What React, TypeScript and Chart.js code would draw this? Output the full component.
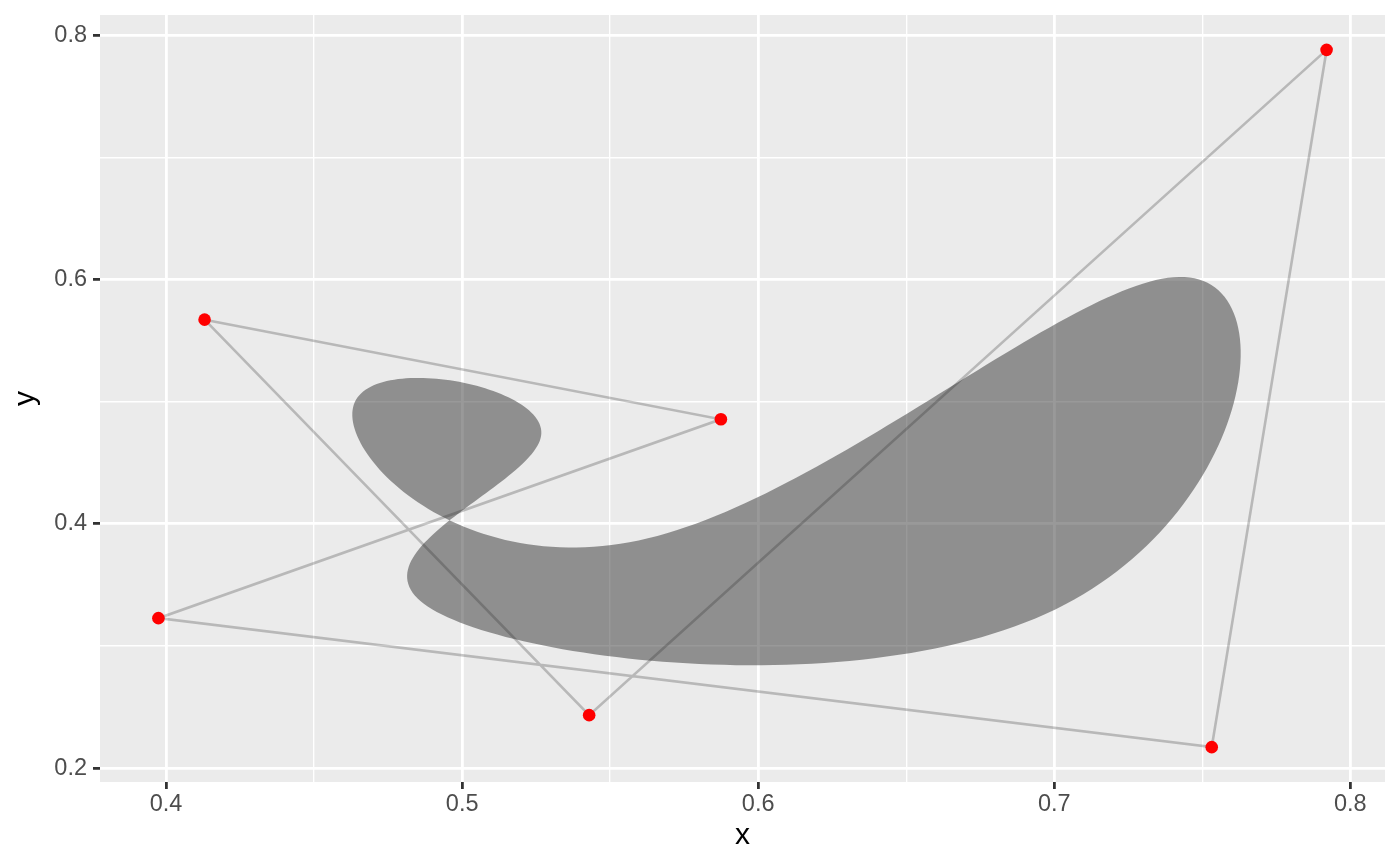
import React, { useEffect, useRef } from 'react';
import { Chart, registerables } from 'chart.js';

Chart.register(...registerables);

// Control points (in path order)
const pointX = [0.413, 0.5874, 0.3974, 0.7532, 0.792, 0.5429];
const pointY = [0.5671, 0.4855, 0.3227, 0.2171, 0.788, 0.2433];

const xMajor = [0.4, 0.5, 0.6, 0.7, 0.8];
const xMinor = [0.45, 0.55, 0.65, 0.75];
const yMajor = [0.2, 0.4, 0.6, 0.8];
const yMinor = [0.3, 0.5, 0.7];

const xTitle = 'x';
const yTitle = 'y';

const FONT = '"Liberation Sans", Arial, Helvetica, sans-serif';
const DPI_SCALE = 2.6;

// Closed uniform cubic B-spline through the control points (what geom_bspline_closed computes)
function closedBSpline(xs: number[], ys: number[], perSeg: number) {
  const n = xs.length;
  const out: { x: number; y: number }[] = [];
  for (let i = 0; i < n; i++) {
    const i0 = (i - 1 + n) % n, i1 = i, i2 = (i + 1) % n, i3 = (i + 2) % n;
    for (let k = 0; k < perSeg; k++) {
      const t = k / perSeg;
      const b0 = (1 - t) ** 3 / 6;
      const b1 = (3 * t ** 3 - 6 * t ** 2 + 4) / 6;
      const b2 = (-3 * t ** 3 + 3 * t ** 2 + 3 * t + 1) / 6;
      const b3 = t ** 3 / 6;
      out.push({
        x: b0 * xs[i0] + b1 * xs[i1] + b2 * xs[i2] + b3 * xs[i3],
        y: b0 * ys[i0] + b1 * ys[i1] + b2 * ys[i2] + b3 * ys[i3],
      });
    }
  }
  out.push(out[0]);
  return out;
}

function expandRange(vals: number[]) {
  const mn = Math.min(...vals), mx = Math.max(...vals);
  const pad = (mx - mn) * 0.05;
  return [mn - pad, mx + pad];
}

const isMajor = (v: number, majors: number[]) => majors.some((m) => Math.abs(m - v) < 1e-9);

export default function App() {
  const ref = useRef<HTMLCanvasElement | null>(null);

  useEffect(() => {
    document.body.style.margin = '0';
    const canvas = ref.current;
    if (!canvas) return;

    const pts = pointX.map((x, i) => ({ x, y: pointY[i] }));
    const pathPts = [...pts, pts[0]];
    const blobPts = closedBSpline(pointX, pointY, 60);
    const [xMin, xMax] = expandRange(pointX);
    const [yMin, yMax] = expandRange(pointY);

    const bgPlugin = {
      id: 'panelBg',
      beforeDraw(chart: any) {
        const { ctx, chartArea } = chart;
        ctx.save();
        ctx.fillStyle = '#EBEBEB';
        ctx.fillRect(chartArea.left, chartArea.top, chartArea.right - chartArea.left, chartArea.bottom - chartArea.top);
        ctx.restore();
      },
    };

    const blobPlugin = {
      id: 'blobFill',
      afterDatasetDraw(chart: any, args: any) {
        if (args.index !== 2) return;
        const meta = chart.getDatasetMeta(2);
        const { ctx } = chart;
        ctx.save();
        ctx.beginPath();
        meta.data.forEach((el: any, i: number) => {
          if (i === 0) ctx.moveTo(el.x, el.y);
          else ctx.lineTo(el.x, el.y);
        });
        ctx.closePath();
        ctx.fillStyle = 'rgba(51,51,51,0.5)';
        ctx.fill('nonzero');
        ctx.restore();
      },
    };

    const gridOpts = (majors: number[]) => ({
      color: '#FFFFFF',
      lineWidth: (c: any) => (isMajor(c.tick?.value, majors) ? 1.07 * DPI_SCALE : 0.53 * DPI_SCALE),
      drawTicks: true,
      tickLength: 7,
      tickColor: (c: any) => (isMajor(c.tick?.value, majors) ? '#333333' : 'rgba(0,0,0,0)'),
      tickWidth: (c: any) => (isMajor(c.tick?.value, majors) ? 1.07 * DPI_SCALE : 0),
    });

    const chart = new Chart(canvas, {
      type: 'scatter',
      data: {
        datasets: [
          {
            data: pts,
            showLine: false,
            pointRadius: 6.3,
            pointHoverRadius: 6.3,
            pointBackgroundColor: '#FF0000',
            pointBorderWidth: 0,
            pointBorderColor: 'rgba(0,0,0,0)',
          },
          {
            data: pathPts,
            showLine: true,
            pointRadius: 0,
            borderColor: 'rgba(40,40,40,0.26)',
            borderWidth: 2.6,
            tension: 0,
            fill: false,
          },
          {
            data: blobPts,
            showLine: true,
            pointRadius: 0,
            borderColor: 'rgba(0,0,0,0)',
            borderWidth: 0,
            tension: 0,
            fill: false,
          },
        ],
      },
      options: {
        responsive: false,
        animation: false,
        events: [],
        layout: { padding: { left: 0, top: 15, right: 15, bottom: 0 } },
        plugins: {
          legend: { display: false },
          tooltip: { enabled: false },
        },
        scales: {
          x: {
            type: 'linear',
            min: xMin,
            max: xMax,
            afterBuildTicks: (s: any) => {
              s.ticks = [...xMajor, ...xMinor].sort((a, b) => a - b).map((v) => ({ value: v }));
            },
            afterFit: (s: any) => {
              s.height = 84;
              s.paddingLeft = 0;
              s.paddingRight = 0;
            },
            grid: gridOpts(xMajor),
            border: { display: false },
            ticks: {
              autoSkip: false,
              maxRotation: 0,
              padding: 1,
              color: '#4D4D4D',
              font: { family: FONT, size: 23.5 },
              callback: (v: any) => (isMajor(Number(v), xMajor) ? Number(v).toFixed(1) : ''),
            },
            title: {
              display: true,
              text: xTitle,
              color: '#000000',
              font: { family: FONT, size: 30 },
              padding: { top: 0, bottom: 12.6 },
            },
          },
          y: {
            type: 'linear',
            min: yMin,
            max: yMax,
            afterBuildTicks: (s: any) => {
              s.ticks = [...yMajor, ...yMinor].sort((a, b) => a - b).map((v) => ({ value: v }));
            },
            afterFit: (s: any) => {
              s.width = 100;
              s.paddingTop = 0;
              s.paddingBottom = 0;
            },
            grid: gridOpts(yMajor),
            border: { display: false },
            ticks: {
              autoSkip: false,
              padding: 6,
              color: '#4D4D4D',
              font: { family: FONT, size: 23.5 },
              callback: (v: any) => (isMajor(Number(v), yMajor) ? Number(v).toFixed(1) : ''),
            },
            title: {
              display: true,
              text: yTitle,
              color: '#000000',
              font: { family: FONT, size: 30 },
              padding: { top: 8, bottom: 0 },
            },
          },
        },
      },
      plugins: [bgPlugin, blobPlugin],
    });

    return () => chart.destroy();
  }, []);

  return (
    <div style={{ width: 1400, height: 866, background: '#FFFFFF' }}>
      <canvas ref={ref} width={1400} height={866} style={{ display: 'block' }} />
    </div>
  );
}
